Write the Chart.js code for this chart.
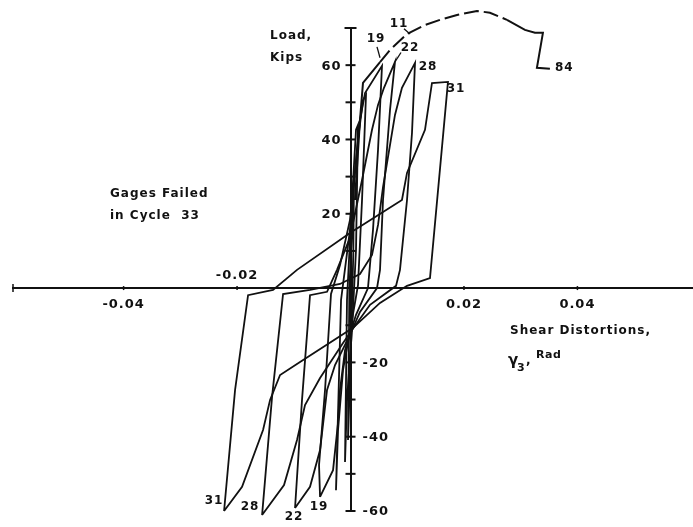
<!DOCTYPE html>
<html>
<head>
<meta charset="utf-8">
<script src="https://cdn.jsdelivr.net/npm/chart.js@4/dist/chart.umd.min.js"></script>
<style>
  html, body { margin: 0; padding: 0; background: #fff; }
  canvas { display: block; }
</style>
</head>
<body>
<canvas id="chart" width="693" height="527"></canvas>
<script>
// Shear distortion (rad) vs. load (kips), hysteresis loops by cycle
const cycle31X = [-0.02229, -0.02035, -0.01806, -0.01366, -0.00943, -0.0001, 0.00907, 0.00996, 0.01313, 0.01436, 0.01718, 0.01401, 0.00996, 0.0052, 0.00044, -0.0089, -0.01242, -0.01418, -0.01542, -0.01912, -0.02229];
const cycle31Y = [-60.0, -27.4, -1.9, -0.5, 4.9, 14.8, 23.7, 31.0, 42.6, 55.2, 55.5, 2.7, 0.6, -4.0, -10.7, -19.9, -23.4, -30.1, -38.2, -53.5, -60.0];

const cycle28X = [-0.01559, -0.01383, -0.01189, -0.00714, -0.00185, 0.00167, 0.00379, 0.00485, 0.00573, 0.00784, 0.00907, 0.01137, 0.01084, 0.00996, 0.00872, 0.00802, 0.00344, 0.00026, -0.00132, -0.00537, -0.00802, -0.00943, -0.01172, -0.01559];
const cycle28Y = [-61.1, -29.3, -1.6, -0.5, 1.1, 3.8, 8.9, 17.0, 27.2, 46.6, 53.9, 60.6, 41.8, 23.7, 4.9, 0.6, -4.5, -11.3, -14.8, -24.2, -31.5, -40.9, -53.0, -61.1];

const cycle22X = [-0.00978, -0.00855, -0.00714, -0.00414, -0.00238, -0.0001, 0.00203, 0.00379, 0.00485, 0.0059, 0.00784, 0.00696, 0.00573, 0.0052, 0.00467, 0.00167, -0.0001, -0.00273, -0.00414, -0.00537, -0.00714, -0.00978];
const cycle22Y = [-59.2, -30.1, -1.9, -1.0, 4.9, 13.5, 29.1, 42.6, 49.3, 53.9, 60.9, 47.9, 23.7, 4.9, 0.0, -6.4, -12.6, -20.7, -27.4, -43.6, -53.5, -59.2];

const cycle19X = [-0.00537, -0.00555, -0.00449, -0.00344, -0.00185, -0.0001, 0.00097, 0.00167, 0.00256, 0.00555, 0.00485, 0.00396, 0.00308, 0.00097, -0.00097, -0.00185, -0.0022, -0.00308, -0.00537];
const cycle19Y = [-56.2, -47.6, -27.4, -1.6, 6.2, 18.3, 34.5, 45.3, 52.5, 59.8, 37.2, 15.6, 0.0, -7.2, -16.7, -27.4, -36.3, -49.0, -56.2];

// earlier, smaller cycles close to the load axis
const innerAX = [-0.00256, -0.00167, -0.0001, 0.00132, 0.0022, 0.00273, 0.00203, 0.00132, 0.00026, -0.00132, -0.0022, -0.00256];
const innerAY = [-54.4, -3.2, 15.6, 39.9, 50.6, 52.0, 23.7, 0.8, -8.6, -22.0, -38.2, -54.4];
const innerBX = [-0.00097, -0.00062, 0.00026, 0.00097, 0.00132, 0.00097, 0.00026, -0.00062, -0.00097];
const innerBY = [-46.8, -3.2, 23.7, 42.6, 43.9, 10.3, -11.3, -30.1, -46.8];
const innerCX = [-0.00044, -0.0002, 0.0004, 0.00062, 0.0005, 0.0001, -0.00044];
const innerCY = [-40.9, 0, 20, 31.8, 10, -15, -40.9];

// final monotonic excursion (dashed where estimated)
const finalX = [0.00079, 0.00167, 0.0022, 0.0052, 0.00696, 0.00996, 0.01313, 0.01577, 0.01877, 0.02229, 0.02458, 0.02758, 0.03075, 0.03251, 0.03392, 0.03286, 0.03515];
const finalY = [23.7, 45.3, 55.2, 60.8, 64.1, 68.4, 70.8, 72.2, 73.5, 74.6, 74.1, 72.2, 69.5, 68.7, 68.7, 59.3, 59.0];

// leader lines from cycle numbers to their curves
const leader19X = [0.00467, 0.0052];
const leader19Y = [64.9, 62.0];
const leader22X = [0.0089, 0.00784];
const leader22Y = [63.4, 60.9];
const leader11X = [0.00943, 0.01049];
const leader11Y = [69.8, 68.4];

// axis ticks
const yTickValues = [-60, -50, -40, -30, -20, -10, 10, 20, 30, 40, 50, 60, 70];
const yLabelValues = [60, 40, 20, -20, -40, -60];
const xTickValues = [-0.04, -0.02, 0.02, 0.04];
const xTickLabels = ['-0.04', '-0.02', '0.02', '0.04'];

function pts(xs, ys) { return xs.map((x, i) => ({ x: x, y: ys[i] })); }

const lineStyle = {
  showLine: true, borderColor: '#111', borderWidth: 1.8, pointRadius: 0,
  fill: false, tension: 0, clip: false
};

const datasets = [
  { label: '31', data: pts(cycle31X, cycle31Y) },
  { label: '28', data: pts(cycle28X, cycle28Y) },
  { label: '22', data: pts(cycle22X, cycle22Y) },
  { label: '19', data: pts(cycle19X, cycle19Y) },
  { label: 'A', data: pts(innerAX, innerAY) },
  { label: 'B', data: pts(innerBX, innerBY) },
  { label: 'C', data: pts(innerCX, innerCY) },
  { label: '84', data: pts(finalX, finalY), borderWidth: 2,
    segment: { borderDash: c => (c.p0DataIndex >= 3 && c.p0DataIndex < 11) ? [15, 5] : undefined } },
  { label: 'l19', data: pts(leader19X, leader19Y), borderWidth: 1.3 },
  { label: 'l22', data: pts(leader22X, leader22Y), borderWidth: 1.3 },
  { label: 'l11', data: pts(leader11X, leader11Y), borderWidth: 1.3 }
].map(d => Object.assign({}, lineStyle, d));

// text placed in data coordinates
const notes = [
  { t: 'Load,', x: -0.01419, y: 67.9, size: 12, align: 'left' },
  { t: 'Kips', x: -0.01419, y: 62.0, size: 12, align: 'left' },
  { t: 'Gages Failed', x: -0.0424, y: 25.3, size: 12, align: 'left' },
  { t: 'in Cycle  33', x: -0.0424, y: 19.4, size: 12, align: 'left' },
  { t: 'Shear Distortions,', x: 0.02812, y: -11.5, size: 12, align: 'left' },
  { t: 'γ', x: 0.02777, y: -19.6, size: 15, align: 'left' },
  { t: '3', x: 0.02935, y: -21.6, size: 11, align: 'left' },
  { t: ',', x: 0.03094, y: -19.6, size: 12, align: 'left' },
  { t: 'Rad', x: 0.0327, y: -18.0, size: 11, align: 'left' },
  { t: '11', x: 0.00855, y: 71.1, size: 12, align: 'center' },
  { t: '19', x: 0.0045, y: 67.1, size: 12, align: 'center' },
  { t: '22', x: 0.01049, y: 64.6, size: 12, align: 'center' },
  { t: '28', x: 0.01366, y: 59.5, size: 12, align: 'center' },
  { t: '31', x: 0.0186, y: 53.6, size: 12, align: 'center' },
  { t: '84', x: 0.03605, y: 59.2, size: 12, align: 'left' },
  { t: '31', x: -0.02407, y: -57.3, size: 12, align: 'center' },
  { t: '28', x: -0.01772, y: -58.9, size: 12, align: 'center' },
  { t: '22', x: -0.00996, y: -61.6, size: 12, align: 'center' },
  { t: '19', x: -0.00555, y: -58.9, size: 12, align: 'center' }
];

const FONT = '"DejaVu Sans", sans-serif';

const axisDecor = {
  id: 'axisDecor',
  afterDraw(chart) {
    const ctx = chart.ctx;
    const xs = chart.scales.x, ys = chart.scales.y;
    const ax = xs.getPixelForValue(0);
    const ay = ys.getPixelForValue(0);
    ctx.save();
    ctx.strokeStyle = '#111';
    ctx.fillStyle = '#111';
    ctx.lineWidth = 2;
    // load axis ticks, crossing the axis
    yTickValues.forEach(v => {
      const p = ys.getPixelForValue(v);
      const h = v === 70 ? 6 : 5;
      ctx.beginPath(); ctx.moveTo(ax - h, p); ctx.lineTo(ax + h, p); ctx.stroke();
    });
    // distortion axis ticks
    ctx.lineWidth = 1.5;
    xTickValues.forEach(v => {
      const p = xs.getPixelForValue(v);
      ctx.beginPath(); ctx.moveTo(p, ay - 2); ctx.lineTo(p, ay + 2); ctx.stroke();
    });
    const lx = xs.getPixelForValue(xs.min);
    ctx.beginPath(); ctx.moveTo(lx, ay - 4); ctx.lineTo(lx, ay + 4); ctx.stroke();

    ctx.font = 'bold 13px ' + FONT;
    if ('letterSpacing' in ctx) ctx.letterSpacing = '1px';
    ctx.textBaseline = 'middle';
    yLabelValues.forEach(v => {
      const p = ys.getPixelForValue(v);
      if (v > 0) { ctx.textAlign = 'right'; ctx.fillText(String(v), ax - 9, p + 1); }
      else { ctx.textAlign = 'left'; ctx.fillText(String(v), ax + 12, p + 1); }
    });
    ctx.textAlign = 'center';
    xTickValues.forEach((v, i) => {
      const p = xs.getPixelForValue(v);
      const above = v === -0.02;
      ctx.fillText(xTickLabels[i], p, above ? ay - 12 : ay + 17);
    });

    notes.forEach(n => {
      ctx.font = 'bold ' + n.size + 'px ' + FONT;
      if ('letterSpacing' in ctx) ctx.letterSpacing = n.size >= 12 ? '1px' : '0.5px';
      ctx.textAlign = n.align;
      ctx.fillText(n.t, xs.getPixelForValue(n.x), ys.getPixelForValue(n.y));
    });
    ctx.restore();
  }
};

new Chart(document.getElementById('chart'), {
  type: 'scatter',
  data: { datasets: datasets },
  options: {
    responsive: false,
    animation: false,
    devicePixelRatio: 1,
    layout: { padding: { left: 13, right: 1, top: 28, bottom: 16 } },
    plugins: { legend: { display: false }, tooltip: { enabled: false } },
    scales: {
      x: {
        type: 'linear', min: -0.0595, max: 0.0602, position: { y: 0 },
        grid: { display: true, drawOnChartArea: false, drawTicks: false },
        border: { display: true, color: '#111', width: 2 },
        ticks: { display: false }
      },
      y: {
        type: 'linear', min: -60, max: 70, position: { x: 0 },
        grid: { display: true, drawOnChartArea: false, drawTicks: false },
        border: { display: true, color: '#111', width: 2 },
        ticks: { display: false }
      }
    }
  },
  plugins: [axisDecor]
});
</script>
</body>
</html>
